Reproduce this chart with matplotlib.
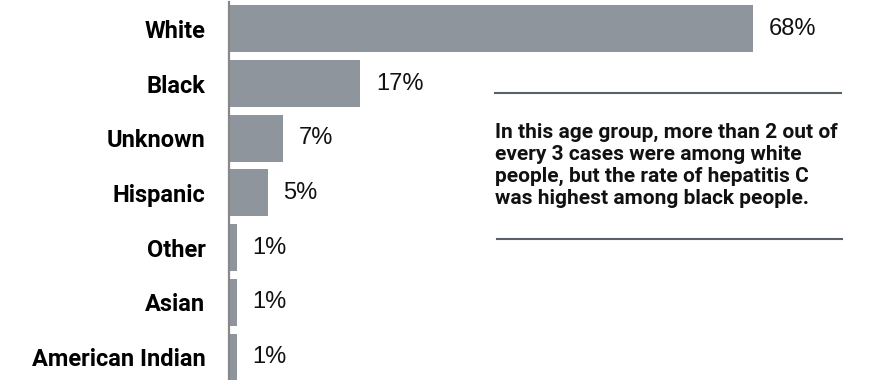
import matplotlib
matplotlib.use("Agg")
import matplotlib.pyplot as plt

# Race / ethnicity share of cases
categories = ["White", "Black", "Unknown", "Hispanic", "Other", "Asian", "American Indian"]
shares = [68, 17, 7, 5, 1, 1, 1]
value_labels = ["68%", "17%", "7%", "5%", "1%", "1%", "1%"]
note = ("In this age group, more than 2 out of\n"
        "every 3 cases were among white\n"
        "people, but the rate of hepatitis C\n"
        "was highest among black people.")

FONT = ["Roboto", "Liberation Sans", "DejaVu Sans"]
NUM_FONT = ["Liberation Sans", "DejaVu Sans"]
BAR = "#8f959c"
W, H = 890, 380
fig = plt.figure(figsize=(W / 100, H / 100), dpi=100)

ax_left, ax_top, ax_bottom = 229, 2, 380
ax = fig.add_axes([ax_left / W, 1 - ax_bottom / H, 1 - ax_left / W, (ax_bottom - ax_top) / H])

pos = list(range(len(categories)))
ax.barh(pos, shares, height=0.86, color=BAR, edgecolor="none")
ax.set_xlim(0, (W - ax_left) / 7.7)
ax.set_ylim(6.42, -0.49)

for p, v, lab in zip(pos, shares, value_labels):
    ax.annotate(lab, (v, p), xytext=(11.5, 0), textcoords="offset points",
                va="center", ha="left", fontsize=17, family=NUM_FONT, color="#111111")

ax.set_yticks(pos)
ax.set_yticklabels(categories, fontsize=17, family=FONT, fontweight="bold")
ax.tick_params(axis="y", length=0, pad=17)
ax.set_xticks([])
for s in ["top", "right", "bottom"]:
    ax.spines[s].set_visible(False)
ax.spines["left"].set_color("#888888")
ax.spines["left"].set_linewidth(1.6)

# note with rules above and below
fig.add_artist(plt.Line2D([495 / W, 841 / W], [1 - 93 / H, 1 - 93 / H], color="#5a6068", lw=1.5))
fig.add_artist(plt.Line2D([497 / W, 842 / W], [1 - 239 / H, 1 - 239 / H], color="#5a6068", lw=1.5))
fig.text(495 / W, 1 - 165 / H, note, ha="left", va="center", fontsize=15,
         family=FONT, fontweight="bold", linespacing=1.2, color="#111111")

fig.savefig("out.png", dpi=100)
